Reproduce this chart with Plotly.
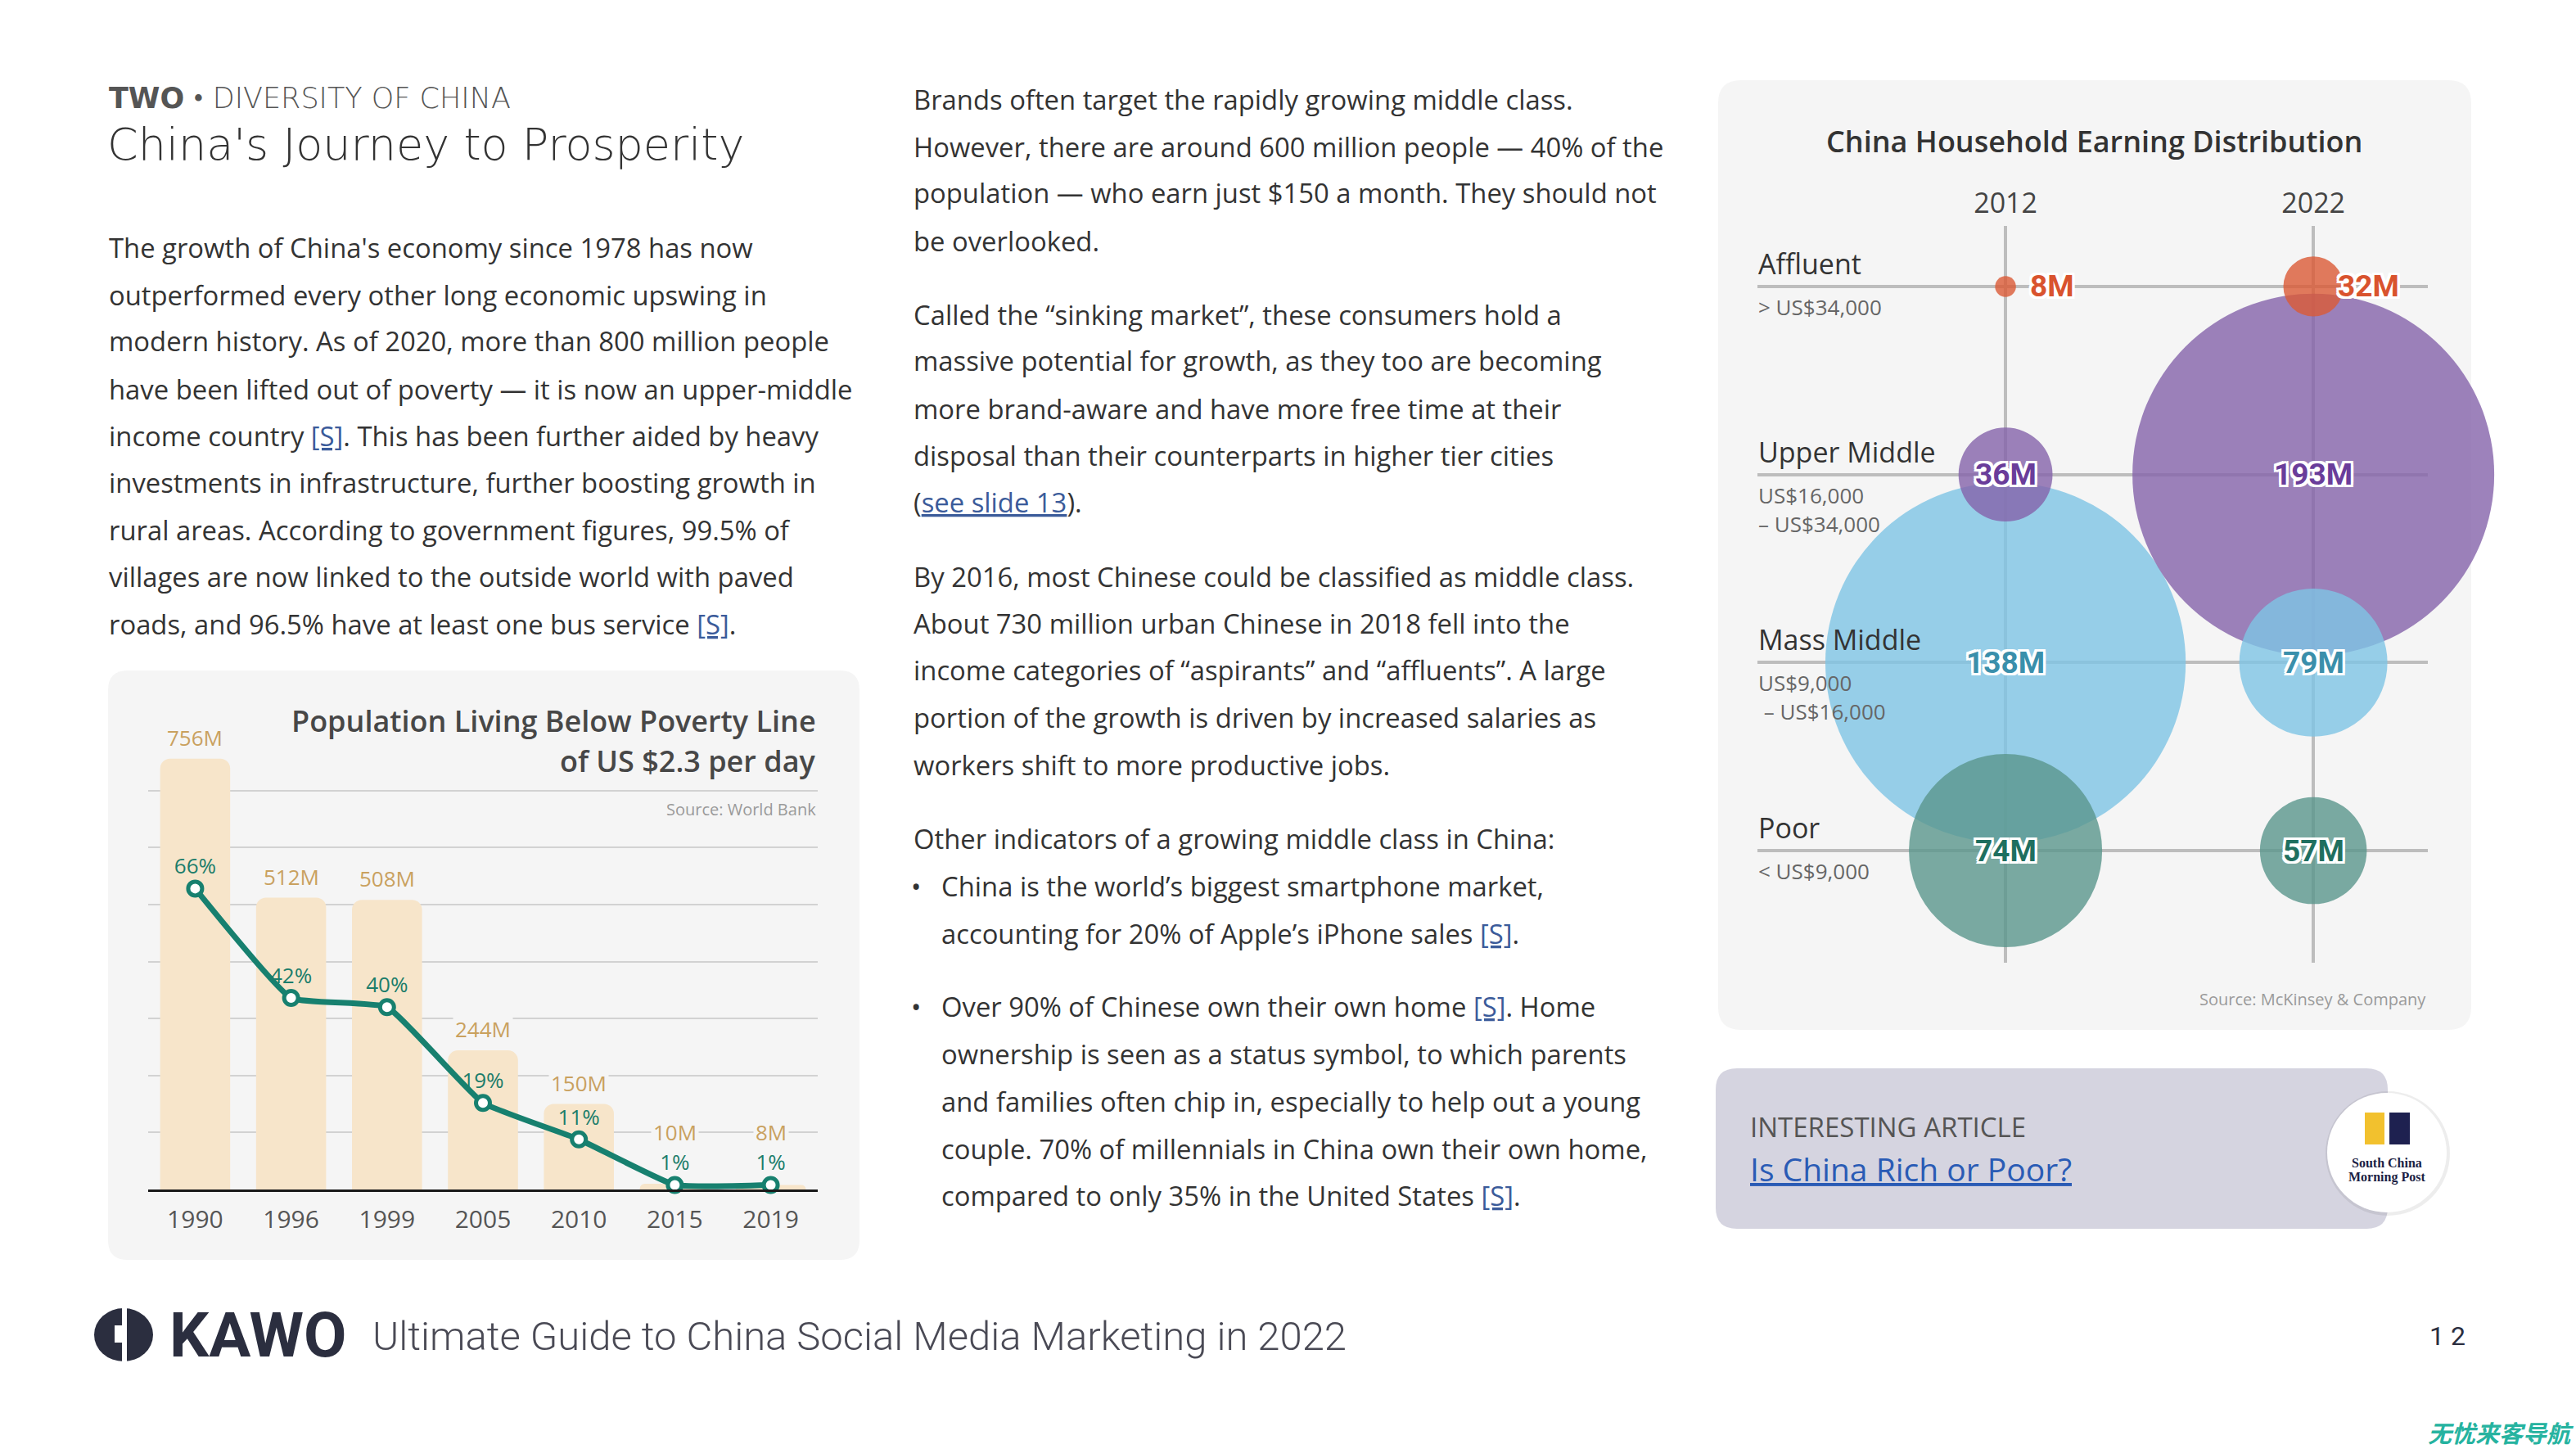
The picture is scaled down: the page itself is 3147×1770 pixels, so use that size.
import plotly.graph_objects as go

W, H = 3147, 1770


def fx(x):
    return x / W


def fy(y):
    return 1 - y / H


# ---------------- DATA ----------------
poverty_years = ["1990", "1996", "1999", "2005", "2010", "2015", "2019"]
poverty_millions = [756, 512, 508, 244, 150, 10, 8]
poverty_pct = [66, 42, 40, 19, 11, 1, 1]

survey_years = ["2012", "2022"]
income_classes = ["Poor", "Mass Middle", "Upper Middle", "Affluent"]
households_2012 = [74, 138, 36, 8]
households_2022 = [57, 79, 193, 32]
class_ranges = [["< US$9,000"], ["US$9,000", " – US$16,000"],
                ["US$16,000", "– US$34,000"], ["> US$34,000"]]

# ---------------- STYLE ----------------
BODY = "Open Sans"
TXT = "#333333"
LINK = "#3b5b9a"
PANEL = "#f5f5f5"
BAR_C = "#f7e5ca"
LINE_C = "#17806f"
GOLD = "#c9a15f"
class_colors = ["#5a968c", "#7ec4e5", "#8463aa", "#db5a36"]
class_text_colors = ["#1f6f60", "#3a8fab", "#6a3d9a", "#d9532e"]
px_per_million = {"2012": 3.19, "2022": 2.29}
BODY_SIZE = 32.8


def link(s, color=LINK):
    return f'<span style="color:{color}"><u>{s}</u></span>'


S = link("[S]")

left_lines = [
    "The growth of China's economy since 1978 has now",
    "outperformed every other long economic upswing in",
    "modern history. As of 2020, more than 800 million people",
    "have been lifted out of poverty — it is now an upper-middle",
    f"income country {S}. This has been further aided by heavy",
    "investments in infrastructure, further boosting growth in",
    "rural areas. According to government figures, 99.5% of",
    "villages are now linked to the outside world with paved",
    f"roads, and 96.5% have at least one bus service {S}.",
]
left_y = [302, 360, 417, 475, 532, 590, 647, 704, 762]

mid_lines = [
    ("Brands often target the rapidly growing middle class.", 122),
    ("However, there are around 600 million people — 40% of the", 179),
    ("population — who earn just $150 a month. They should not", 236),
    ("be overlooked.", 294),
    ("Called the “sinking market”, these consumers hold a", 384),
    ("massive potential for growth, as they too are becoming", 441),
    ("more brand-aware and have more free time at their", 499),
    ("disposal than their counterparts in higher tier cities", 556),
    ("(" + link("see slide 13") + ").", 614),
    ("By 2016, most Chinese could be classified as middle class.", 704),
    ("About 730 million urban Chinese in 2018 fell into the", 761),
    ("income categories of “aspirants” and “affluents”. A large", 819),
    ("portion of the growth is driven by increased salaries as", 876),
    ("workers shift to more productive jobs.", 934),
    ("Other indicators of a growing middle class in China:", 1024),
]
bullet_lines = [
    ("China is the world’s biggest smartphone market,", 1082, True),
    (f"accounting for 20% of Apple’s iPhone sales {S}.", 1140, False),
    (f"Over 90% of Chinese own their own home {S}. Home", 1229, True),
    ("ownership is seen as a status symbol, to which parents", 1287, False),
    ("and families often chip in, especially to help out a young", 1345, False),
    ("couple. 70% of millennials in China own their own home,", 1403, False),
    (f"compared to only 35% in the United States {S}.", 1460, False),
]

fig = go.Figure()
annotations = []
shapes = []


def note(x, y, s, size, color=TXT, family=BODY, xanchor="left", yanchor="middle",
         weight=None, **kw):
    f = dict(size=size, color=color, family=family)
    if weight is not None:
        f["weight"] = weight
    annotations.append(dict(x=fx(x), y=fy(y), xref="paper", yref="paper", text=s,
                            showarrow=False, xanchor=xanchor, yanchor=yanchor,
                            font=f, **kw))


def rrect(x0, y0, x1, y1, r, color, layer="below"):
    X, Y = fx, fy
    p = (f"M {X(x0 + r)},{Y(y0)} L {X(x1 - r)},{Y(y0)} Q {X(x1)},{Y(y0)} {X(x1)},{Y(y0 + r)} "
         f"L {X(x1)},{Y(y1 - r)} Q {X(x1)},{Y(y1)} {X(x1 - r)},{Y(y1)} "
         f"L {X(x0 + r)},{Y(y1)} Q {X(x0)},{Y(y1)} {X(x0)},{Y(y1 - r)} "
         f"L {X(x0)},{Y(y0 + r)} Q {X(x0)},{Y(y0)} {X(x0 + r)},{Y(y0)} Z")
    shapes.append(dict(type="path", path=p, xref="paper", yref="paper",
                       fillcolor=color, line=dict(width=0), layer=layer))


def rect(x0, y0, x1, y1, color, layer="above"):
    shapes.append(dict(type="rect", xref="paper", yref="paper", x0=fx(x0), x1=fx(x1),
                       y0=fy(y1), y1=fy(y0), fillcolor=color, line=dict(width=0), layer=layer))


def circ(x0, y0, x1, y1, color, layer="above"):
    shapes.append(dict(type="circle", xref="paper", yref="paper", x0=fx(x0), x1=fx(x1),
                       y0=fy(y1), y1=fy(y0), fillcolor=color, line=dict(width=0), layer=layer))


# ---------------- HEADER / TEXT COLUMNS ----------------
note(131, 120, "<b>TWO</b> • DIVERSITY OF CHINA", 35, "#555555", family="DejaVu Sans", weight=300)
note(129, 176, "China's Journey to Prosperity", 54, "#333333", family="DejaVu Sans", weight=300)

for s, y in zip(left_lines, left_y):
    note(131, y, s, BODY_SIZE, TXT)

for s, y in mid_lines:
    note(1114, y, s, BODY_SIZE, TXT)
for s, y, bullet in bullet_lines:
    if bullet:
        note(1119, y, "•", BODY_SIZE, TXT, xanchor="center")
    note(1148, y, s, BODY_SIZE, TXT)

# ---------------- POVERTY CHART ----------------
rrect(132, 819, 1050, 1539, 24, PANEL)
note(999, 880, "Population Living Below Poverty Line", 36, "#474747", xanchor="right", weight=600)
note(999, 929, "of US $2.3 per day", 36, "#474747", xanchor="right", weight=600)
note(999, 988, "Source: World Bank", 20, "#9a9a9a", xanchor="right")

fig.add_trace(go.Bar(
    x=poverty_years, y=poverty_millions, xaxis="x", yaxis="y",
    marker=dict(color=BAR_C, cornerradius=12, line=dict(width=0)),
    width=0.73, hoverinfo="skip", showlegend=False,
))
fig.add_trace(go.Scatter(
    x=poverty_years, y=poverty_pct, xaxis="x", yaxis="y2",
    mode="lines+markers+text",
    text=[f"{p}%" for p in poverty_pct], textposition="top center",
    textfont=dict(size=26, color="#1c7d6b", family=BODY),
    line=dict(color=LINE_C, width=7, shape="spline", smoothing=0.35),
    marker=dict(size=17, color="white", line=dict(color=LINE_C, width=5)),
    cliponaxis=False, hoverinfo="skip", showlegend=False,
))

label_floor = 100
for i, v in enumerate(poverty_millions):
    lifted = v < label_floor
    annotations.append(dict(
        x=i, y=label_floor if lifted else v, xref="x", yref="y",
        text=f"{v}M", showarrow=False, xanchor="center",
        yanchor="middle" if lifted else "bottom", yshift=0 if lifted else 5,
        font=dict(size=26, color=GOLD, family=BODY),
        bgcolor=PANEL, borderpad=2,
    ))

# ---------------- HOUSEHOLD BUBBLE CHART ----------------
rrect(2099, 98, 3019, 1258, 28, PANEL)
note(2558, 173, "China Household Earning Distribution", 36, "#333333", xanchor="center", weight=600)
note(2966, 1220, "Source: McKinsey & Company", 20, "#9a9a9a", xanchor="right")

for yr, vals in zip(survey_years, [households_2012, households_2022]):
    order = sorted(range(len(vals)), key=lambda k: -vals[k])
    fig.add_trace(go.Scatter(
        x=[yr] * len(order), y=[income_classes[k] for k in order],
        xaxis="x3", yaxis="y3", mode="markers",
        marker=dict(size=[vals[k] for k in order],
                    color=[class_colors[k] for k in order],
                    sizemode="diameter", sizeref=1 / px_per_million[yr],
                    opacity=0.8, line=dict(width=0)),
        cliponaxis=False, hoverinfo="skip", showlegend=False,
    ))

shadow = ",".join(f"{a}px {b}px 0 #fff" for a in (-3, 0, 3) for b in (-3, 0, 3) if (a, b) != (0, 0))
for xi, vals in enumerate([households_2012, households_2022]):
    for k, v in enumerate(vals):
        side = income_classes[k] == "Affluent"
        annotations.append(dict(
            x=xi, y=k, xref="x3", yref="y3", text=f"{v}M", showarrow=False,
            xanchor="left" if side else "center", xshift=28 if side else 0,
            yanchor="middle",
            font=dict(size=37, color=class_text_colors[k], family="Roboto", weight=700,
                      shadow=shadow),
        ))

for k, name in enumerate(income_classes):
    annotations.append(dict(x=fx(2146), y=k, xref="paper", yref="y3", text=name,
                            showarrow=False, xanchor="left", yanchor="bottom", yshift=3,
                            font=dict(size=34, color="#333333", family=BODY, weight=500)))
    for j, r in enumerate(class_ranges[k]):
        annotations.append(dict(x=fx(2146), y=k, xref="paper", yref="y3", text=r,
                                showarrow=False, xanchor="left", yanchor="middle",
                                yshift=-(25 + 35 * j),
                                font=dict(size=26, color="#666666", family=BODY)))

# ---------------- ARTICLE BOX ----------------
rrect(2096, 1305, 2917, 1501, 26, "#d5d4e0")
note(2136, 1376, "INTERESTING ARTICLE", 33, "#555555")
note(2136, 1427, link("Is China Rich or Poor?", "#2a5bb5"), 39, "#2a5bb5")
circ(2841, 1333, 2993, 1485, "rgba(0,0,0,0.07)")
circ(2843, 1335, 2989, 1481, "#ffffff")
rect(2889, 1359, 2913, 1398, "#f2c12e")
rect(2919, 1359, 2944, 1398, "#1e2150")
note(2916, 1420, "<b>South China</b>", 16, "#1c1f45", family="Liberation Serif", xanchor="center")
note(2916, 1438, "<b>Morning Post</b>", 16, "#1c1f45", family="Liberation Serif", xanchor="center")

# ---------------- FOOTER ----------------
circ(115, 1598, 187, 1663, "#2b2e3f")
rect(149, 1596, 155, 1665, "#ffffff")
rect(140, 1619, 149, 1640, "#ffffff")
note(205, 1631, "<b>KAWO</b>", 76, "#2b2e3f", family="Roboto")
note(453, 1632, "Ultimate Guide to China Social Media Marketing in 2022", 49, "#4a4a55",
     family="Roboto", weight=300)
note(2966, 1632, "1 2", 32, "#2b2e3f", family="Roboto")
note(2964, 1749, "<i><b>无忧来客导航</b></i>", 29, "#26b3a0", family="Noto Sans CJK SC")

# ---------------- LAYOUT ----------------
bar_top_px = 896
fig.update_layout(
    width=W, height=H, margin=dict(l=0, r=0, t=0, b=0),
    paper_bgcolor="white", plot_bgcolor="rgba(0,0,0,0)",
    font=dict(family=BODY, color=TXT),
    xaxis=dict(domain=[fx(181), fx(999)], type="category", categoryarray=poverty_years,
               range=[-0.49, 6.49], showgrid=False, zeroline=False,
               showline=True, linecolor="#1a1a1a", linewidth=3, ticks="",
               tickfont=dict(size=30, color="#555555", family=BODY), ticklabelstandoff=8,
               fixedrange=True),
    yaxis=dict(domain=[fy(1453), fy(bar_top_px)], range=[0, 800],
               tickvals=[100, 200, 300, 400, 500, 600, 700], showticklabels=False,
               showgrid=True, gridcolor="#d2d2d2", gridwidth=2, zeroline=False, ticks=""),
    yaxis2=dict(overlaying="y", range=[0, 100], visible=False),
    xaxis3=dict(domain=[fx(2147), fx(2966)], anchor="y3", type="category",
                categoryarray=survey_years, range=[-0.806, 1.372], side="top",
                showgrid=True, gridcolor="#bdbdbd", gridwidth=4, zeroline=False,
                showline=False, ticks="", ticklabelstandoff=8,
                tickfont=dict(size=34, color="#444444", family=BODY)),
    yaxis3=dict(domain=[fy(1176), fy(276)], anchor="x3", type="category",
                categoryarray=income_classes, range=[-0.596, 3.322],
                showgrid=True, gridcolor="#bdbdbd", gridwidth=4, zeroline=False,
                showline=False, ticks="", showticklabels=False),
    annotations=annotations, shapes=shapes, showlegend=False,
)

fig.write_html("out.html", config={"displayModeBar": False},
               post_script="document.body.style.margin='0';document.body.style.overflow='hidden';")
